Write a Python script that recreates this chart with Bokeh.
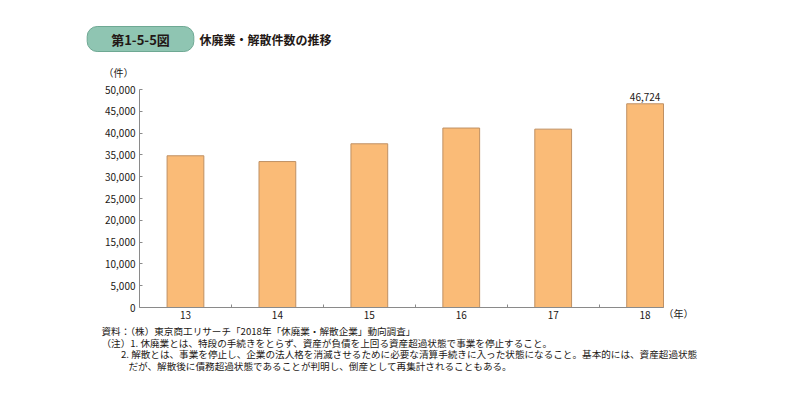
from bokeh.plotting import figure
from bokeh.models import Range1d, FixedTicker, Label, ColumnDataSource, NumeralTickFormatter
from bokeh.embed import file_html
from bokeh.resources import INLINE

# ---- data ----
years = ["13", "14", "15", "16", "17", "18"]
counts = [34800, 33475, 37548, 41162, 40909, 46724]
y_ticks = [0, 5000, 10000, 15000, 20000, 25000, 30000, 35000, 40000, 45000, 50000]

fig_label = "第1-5-5図"
title = "休廃業・解散件数の推移"
y_unit = "（件）"
x_unit = "（年）"
notes = [
    "資料：（株）東京商工リサーチ「2018年「休廃業・解散企業」動向調査」",
    "（注）1. 休廃業とは、特段の手続きをとらず、資産が負債を上回る資産超過状態で事業を停止すること。",
    "2. 解散とは、事業を停止し、企業の法人格を消滅させるために必要な清算手続きに入った状態になること。基本的には、資産超過状態",
    "だが、解散後に債務超過状態であることが判明し、倒産として再集計されることもある。",
]

# ---- layout (canvas pixels) ----
W, H = 800, 410
AXL, AXR, AXT, AXB = 139, 663, 89, 307   # plotting area edges
X_END = 5.7
Y_MAX = 50000
JP = "Noto Sans CJK JP"
TXT = "#231815"
AX = "#8a8a8a"

sx = X_END / (AXR - AXL)
sy = Y_MAX / (AXB - AXT)
x_range = Range1d(-AXL * sx, (W - AXL) * sx)
y_range = Range1d(-(H - AXB) * sy, Y_MAX + AXT * sy)

xpos = [i + 0.5 for i in range(len(years))]
bounds = [i for i in range(1, len(years))]
src = ColumnDataSource(dict(x=xpos, top=counts, year=years))

p = figure(width=W, height=H, output_backend="svg", toolbar_location=None,
           x_range=x_range, y_range=y_range,
           min_border=0, min_border_left=0, min_border_right=0,
           min_border_top=0, min_border_bottom=0,
           background_fill_color="white", border_fill_color="white")
p.outline_line_color = None
p.xgrid.visible = False
p.ygrid.visible = False

p.vbar(x="x", top="top", width=0.4, source=src,
       fill_color="#FABB77", line_color="#BF9063", line_width=1)

xa = p.xaxis[0]
xa.fixed_location = 0
xa.bounds = (0, X_END)
xa.ticker = FixedTicker(ticks=xpos, minor_ticks=bounds)
xa.major_label_overrides = {x: y for x, y in zip(xpos, years)}
xa.major_tick_line_color = None
xa.minor_tick_in = 3
xa.minor_tick_out = 0
xa.minor_tick_line_color = AX
xa.axis_line_color = AX
xa.major_label_standoff = -3
xa.major_label_text_font = JP
xa.major_label_text_font_size = "10px"
xa.major_label_text_color = TXT

ya = p.yaxis[0]
ya.fixed_location = 0
ya.bounds = (0, Y_MAX)
ya.ticker = FixedTicker(ticks=y_ticks)
ya.formatter = NumeralTickFormatter(format="0,0")
ya.major_tick_in = 3
ya.major_tick_out = 0
ya.major_tick_line_color = AX
ya.minor_tick_line_color = None
ya.axis_line_color = AX
ya.major_label_standoff = 4
ya.major_label_text_font = JP
ya.major_label_text_font_size = "10px"
ya.major_label_text_color = TXT


def lab(cx, cy, text, size="10px", align="left", bold=False, **kw):
    return Label(x=cx, y=H - cy, x_units="screen", y_units="screen",
                 text=text, text_font=JP, text_font_size=size,
                 text_font_style="bold" if bold else "normal",
                 text_align=align, text_baseline="middle", text_color=TXT, **kw)


p.add_layout(lab(140, 38.5, fig_label, size="13px", align="center", bold=True,
                 background_fill_color="#8FC5B2", border_line_color="#6EA893",
                 border_radius=10, padding=(24, 3)))
p.add_layout(lab(199, 39, title, size="12px", bold=True))
p.add_layout(lab(118, 72, y_unit, size="10px", align="center"))
p.add_layout(lab(678, 313, x_unit, size="10px", align="center"))

note_pos = [(101, 330.5), (101, 342), (120.5, 353.5), (128, 365)]
for (nx, ny), t in zip(note_pos, notes):
    p.add_layout(lab(nx, ny, t, size="9.6px"))

p.add_layout(Label(x=xpos[-1], y=counts[-1], y_offset=3, text=f"{counts[-1]:,}",
                   text_font=JP, text_font_size="10px", text_color=TXT,
                   text_align="center", text_baseline="bottom"))

open("out.html", "w").write(file_html(p, INLINE))
